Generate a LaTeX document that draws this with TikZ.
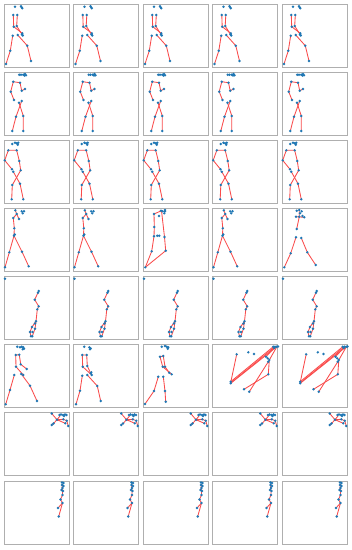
\documentclass[tikz,border=0pt]{standalone}
\definecolor{dotc}{RGB}{31,119,180}
\definecolor{bonec}{RGB}{250,75,75}
\definecolor{framec}{RGB}{175,175,175}
\tikzset{
  frame/.style={draw=framec, line width=0.9pt},
  bone/.style={draw=bonec, line width=0.85pt, line join=round},
}
\newcommand\pts[1]{\foreach \p in {#1} {\fill[dotc] \p circle (1.35pt);}}
% ---------- row skeletons (absolute coordinates of column 1) ----------
\newcommand\rowOne{%
  \draw[bone] (13.3,15)--(13.7,26.7)--(22.3,33.3);
  \draw[bone] (17.3,15)--(16.7,26)--(22.7,35.5);
  \draw[bone] (12.7,35.7)--(10.3,50.7)--(6,64);
  \draw[bone] (17.7,35)--(27.3,45.7)--(31,61);
  \pts{(15,6.7),(21.7,7.3),(21,6.3),(22.3,8.3),(13.3,15),(17.3,15),(13.7,26.7),(16.7,26),(22.3,33.3),(22.7,35.5),(22,34.5),(12.7,35.7),(17.7,35),(10.3,50.7),(27.3,45.7),(6,64),(31,61)}}
\newcommand\rowTwo{%
  \draw[bone] (10.7,91.7)--(13.3,81.7)--(20,82.7)--(21.7,90.7)--(25,89);
  \draw[bone] (10.7,91.7)--(14,100);
  \draw[bone] (21.7,101)--(16,116.7)--(12.3,131);
  \draw[bone] (19,102.7)--(23.3,116)--(23.3,131);
  \pts{(19.3,74.7),(21,74.7),(23.3,74.7),(25,74),(26,75.3),(24.5,75.5),(13.3,81.7),(20,82.7),(10.7,91.7),(21.7,90.7),(25,89),(14,100),(19,102.7),(21.7,101),(16,116.7),(23.3,116),(12.3,131),(23.3,131)}}
\newcommand\rowThree{%
  \draw[bone] (4.7,160.3)--(8.3,150.3)--(16.7,150.3)--(19.3,161)--(20.7,170.3);
  \draw[bone] (4.7,160.3)--(12,169.3);
  \draw[bone] (13.3,171.7)--(20,183.7)--(23.3,199.3);
  \draw[bone] (20.7,170.3)--(12.3,185)--(11.7,199.3);
  \pts{(12.3,144),(15,142.7),(16.7,143.3),(18.3,142.7),(17.7,144.7),(8.3,150.3),(16.7,150.3),(4.7,160.3),(19.3,161),(12,169.3),(13.3,171.7),(20.7,170.3),(12.3,185),(20,183.7),(11.7,199.3),(23.3,199.3)}}
\newcommand\rowFourA{%
  \draw[bone] (15.3,210.3)--(16.7,214)--(19,219);
  \draw[bone] (16.7,214)--(13.3,218)--(14.3,228.3)--(14,235.7);
  \draw[bone] (14,235.7)--(9.3,252.3)--(5,267.3);
  \draw[bone] (14,235.7)--(22,251.7)--(28.7,266.3);
  \pts{(15.3,210.3),(16.7,214),(13.3,218),(19,219),(21.7,211.3),(24,211.3),(22.7,213.3),(14.3,228.3),(14,235.7),(14.7,234.5),(9.3,252.3),(22,251.7),(5,267.3),(28.7,266.3)}}
\newcommand\rowFive{%
  \draw[bone] (38.7,291)--(34.7,299.7)--(38.7,306.3)--(37.3,309.3)--(36,321.3)--(35,328.7)--(32.3,336.3);
  \draw[bone] (36,321.3)--(32,327)--(30,332)--(31,336.3);
  \pts{(5,278.7),(38.7,291),(38,292.7),(34.7,299.7),(38.7,306.3),(37.3,309.3),(36,321.3),(35,323.5),(32,327),(35,328.7),(30,332),(32.5,332),(31,336.3),(32.3,336.3)}}
\newcommand\rowSixB{% columns 4 and 5 (absolute coordinates of column 4)
  \draw[bone] (236.7,354.3)--(230.7,382.5);
  \draw[bone] (230.7,381.7)--(273.3,346.7);
  \draw[bone] (230.7,383.3)--(276.7,346.7);
  \draw[bone] (231.3,382.5)--(275,346.7);
  \draw[bone] (275,347)--(266,356.7);
  \draw[bone] (276.7,347)--(269.3,360)--(268.3,374.3)--(244,389.3);
  \draw[bone] (268.3,361.7)--(249.3,391.7);
  \pts{(236.7,354.3),(248.3,352.3),(254,354),(273.3,346.7),(275,346.7),(276.7,346.7),(274.3,348),(278,346.5),(266,356.7),(267.7,358.3),(269.3,360),(268.3,361.7),(268.3,374.3),(230.7,381.7),(230.7,383.3),(244,389.3),(249.3,391.7)}}
\newcommand\rowSeven{%
  \draw[bone] (51.7,413.5)--(57,419.7)--(53.5,423.5)--(51.7,425);
  \draw[bone] (57,419.7)--(60,416);
  \draw[bone] (57,419.7)--(63.3,419.3)--(66.7,420.7)--(68.3,426);
  \draw[bone] (57,419.7)--(65.3,423.3);
  \draw[bone] (56,420.5)--(63.3,419.3);
  \pts{(51.7,413.5),(59.5,415),(61,414.5),(63,415),(65,414.5),(66.5,415),(64,416),(57,419.7),(53.5,423.5),(51.7,425),(63.3,419.3),(66.7,420.7),(68.3,426),(65.3,423.3)}}
\newcommand\rowEight{%
  \draw[bone] (62.5,484)--(62,488)--(62.5,491)--(62.5,495)--(60.5,499.5)--(62.5,503)--(58.7,516.5);
  \draw[bone] (62.5,503)--(58,508);
  \pts{(62,482.5),(63.5,483),(62,485),(63.5,486),(62.5,488),(61.5,490),(63,491),(62.5,495),(60.5,499.5),(62.5,503),(58,508),(58.7,516.5)}}
\begin{document}
\begin{tikzpicture}[x=1pt,y=-1pt]
\useasboundingbox (0,0) rectangle (352,550);
\fill[white] (0,0) rectangle (352,550);
% frames
\foreach \i in {0,...,7} {
  \foreach \j in {0,...,4} {
    \pgfmathsetmacro\xa{4+69.5*\j}
    \pgfmathsetmacro\ya{4+68.14*\i}
    \draw[frame] (\xa,\ya) rectangle ++(65,63);
  }
}
% rows identical over the columns
\foreach \j in {0,...,4} {
  \pgfmathsetmacro\dx{69.5*\j}
  \begin{scope}[xshift=\dx pt]
    \rowOne \rowTwo \rowThree \rowFive \rowSeven \rowEight
  \end{scope}
}
% row 4
\foreach \j in {0,1,3} {
  \pgfmathsetmacro\dx{69.5*\j}
  \begin{scope}[xshift=\dx pt]
    \rowFourA
  \end{scope}
}
% row 4 column 3
\draw[bone] (154,214)--(161.5,210.7);
\draw[bone] (154,214)--(154.3,227)--(154,236.3)--(151.7,251.3)--(145.3,267.3);
\draw[bone] (161.5,210.7)--(164.5,237)--(165.7,250.7)--(145.3,267.3);
\draw[bone] (157.3,235.7)--(159.3,235.7);
\pts{(161,210.7),(162.7,211.3),(165,211.3),(164.3,213.3),(165,210),(154,214),(159,216),(154.3,227),(154,236.3),(157.3,235.7),(159.3,235.7),(164.5,237),(151.7,251.3),(165.7,250.7),(145.3,267.3)}
% row 4 column 5
\draw[bone] (296,216.7)--(304.3,217.3);
\draw[bone] (299.3,210)--(299.3,216.7)--(296.7,229);
\draw[bone] (296,237.3)--(290.7,253.3)--(284.3,267.3);
\draw[bone] (301.3,238)--(307.3,252.3)--(315.7,265);
\pts{(296.7,210.7),(299.3,210),(301.7,211.3),(300,213.3),(296,216.7),(299.3,216.7),(304.3,217.3),(302.5,216),(296.7,229),(296,237.3),(301.3,238),(290.7,253.3),(307.3,252.3),(284.3,267.3),(315.7,265)}
% row 6 column 1
\draw[bone] (15.7,355)--(19.3,354.7)--(20.7,364.3)--(26.7,369);
\draw[bone] (15.7,355)--(16,366.7)--(23.3,375);
\draw[bone] (14.3,375)--(10,390)--(5.7,404.3);
\draw[bone] (21.3,374)--(30,385.7)--(37,401);
\pts{(17.3,346.7),(20,347.3),(21.7,346.7),(23.3,347.3),(24,348.7),(22.7,349.3),(15.7,355),(19.3,354.7),(16,366.7),(20.7,364.3),(26.7,369),(14.3,375),(21.3,374),(23.3,375),(10,390),(30,385.7),(5.7,404.3),(37,401)}
% row 6 column 2
\draw[bone] (82.3,355)--(86.7,355)--(87.3,366)--(90.7,373.3);
\draw[bone] (82.3,355)--(82.7,366.7)--(91.7,375);
\draw[bone] (82.3,375.7)--(80,390.7)--(76,404.3);
\draw[bone] (87.3,375)--(97.3,386)--(100.7,401);
\pts{(84.3,346.7),(89.3,347.3),(90.7,348.3),(90,349.3),(82.3,355),(86.7,355),(82.7,366.7),(87.3,366),(90.7,373.3),(91.7,375),(91.3,372.3),(82.3,375.7),(87.3,375),(80,390.7),(97.3,386),(76,404.3),(100.7,401)}
% row 6 column 3
\draw[bone] (160,356.7)--(163.3,356)--(165,366.7)--(169.3,372.7);
\draw[bone] (160,356.7)--(162.7,366.7)--(171.7,374.3);
\draw[bone] (158.3,376.7)--(154,391)--(145,404);
\draw[bone] (163.3,376.7)--(165,391)--(165.7,401.7);
\pts{(161.7,346.7),(165,346),(166.7,346.7),(168.3,347.3),(167.7,348.7),(160,356.7),(163.3,356),(162.7,366.7),(165,366.7),(169.3,372.7),(171.7,374.3),(158.3,376.7),(163.3,376.7),(154,391),(165,391),(145,404),(165.7,401.7)}
% row 6 columns 4 and 5
\rowSixB
\begin{scope}[xshift=69.5pt] \rowSixB \end{scope}
\end{tikzpicture}
\end{document}
